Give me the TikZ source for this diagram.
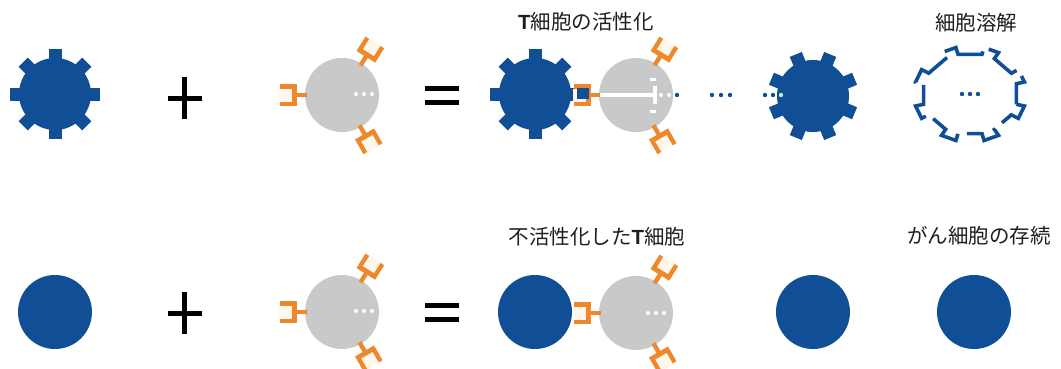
\documentclass[tikz,border=0pt]{standalone}
\usepackage{fontspec}
\newfontfamily\jpfont{Noto Sans CJK JP}
\newfontfamily\latfont{Liberation Sans}
\definecolor{cblue}{RGB}{16,78,150}
\definecolor{tgray}{RGB}{201,201,201}
\definecolor{rorange}{RGB}{238,136,44}
\definecolor{cupin}{RGB}{255,246,236}
\definecolor{txt}{RGB}{30,30,30}
\definecolor{lightdot}{RGB}{190,232,245}
\tikzset{
  x=1pt, y=-1pt,
  cancer/.style={circle, fill=cblue, minimum size=74pt, inner sep=0pt},
  tcell/.style={circle, fill=tgray, minimum size=74pt, inner sep=0pt},
  caption/.style={text=txt, font=\jpfont\fontsize{20.5}{22}\selectfont, inner sep=0pt},
  sign/.style={line width=5pt, black},
  gear/.pic={
    \fill[cblue] (0,0) circle (36);
    \foreach \a in {0,45,...,315}
      \fill[cblue, rotate=\a] (28,-6.5) rectangle (45,6.5);
  },
  receptor/.pic={
    \fill[rorange] (35,-2.2) rectangle (46,2.2);
    \fill[rorange] (45,-11) rectangle (62,11);
    \fill[cupin] (50,-6.5) rectangle (63,6.5);
  },
  wdot/.style={circle, fill=white, minimum size=4pt, inner sep=0pt},
  bdot/.style={circle, fill=cblue, minimum size=4.4pt, inner sep=0pt},
}
\newcommand{\plussign}[2]{%
  \draw[sign] (#1-17,#2) -- (#1+17,#2);
  \draw[sign] (#1,#2-21) -- (#1,#2+21);}
\newcommand{\equalsign}[2]{%
  \draw[sign] (#1-17,#2-7) -- (#1+17,#2-7);
  \draw[sign] (#1-17,#2+7) -- (#1+17,#2+7);}
\begin{document}
\begin{tikzpicture}
\useasboundingbox (0,0) rectangle (1061,368);

% ---------- top row: cancer cell with antigen ----------
\pic at (55,94) {gear};
\plussign{184.5}{98}

% resting T cell
\node[tcell] (t1) at (342,95) {};
\pic[rotate=180] at (t1.center) {receptor};
\pic[rotate=58] at (t1.center) {receptor};
\pic[rotate=-60] at (t1.center) {receptor};
\foreach \dx in {356,364,372} \node[wdot] at (\dx,94) {};

\equalsign{442}{95}

% T cell binding to the cancer cell
\node[caption] (lab1) at (586,22) {{\latfont\bfseries T}細胞の活性化};
\pic at (535,94) {gear};
\node[tcell] (t2) at (636,95) {};
\pic[rotate=180] at (t2.center) {receptor};
\pic[rotate=58] at (t2.center) {receptor};
\pic[rotate=-60] at (t2.center) {receptor};
\fill[cblue] (577,88) rectangle (589,99);
% signal through the T cell
\fill[white] (600,93) rectangle (655,97);
\fill[white] (653,86) rectangle (657,104);
\fill[white] (650,77.5) rectangle (656,80.5);
\fill[white] (650,109.5) rectangle (656,112.5);
\node[wdot] at (661,95) {};
\node[wdot] at (669,95) {};
\node[bdot] at (677,95) {};
\foreach \dx in {712,721,730} \node[bdot] at (\dx,95) {};
\node[bdot] at (765,95) {};
\node[bdot] at (773,95) {};

% attacked cancer cell
\pic[rotate=22.5] at (813,96) {gear};
\node[circle, fill=lightdot, minimum size=4.4pt, inner sep=0pt] at (781,95) {};

% lysed cell: broken outline
\node[caption] (lab2) at (976,23) {細胞溶解};
\begin{scope}[shift={(970,94)}, xscale=1.17]
  \draw[cblue, line width=3.6pt, dash pattern=on 46pt off 9pt, dash phase=4pt]
    (14.5:41) \foreach \a in {22.5,67.5,...,337.5} {
      -- (\a-8:41) -- (\a-8:48) -- (\a+8:48) -- (\a+8:41) } -- cycle;
\end{scope}
\foreach \dx in {962,970,978} \node[bdot] at (\dx,94) {};

% ---------- bottom row: cancer cell without antigen ----------
\node[cancer] (c1) at (55,312) {};
\plussign{184.5}{313}

\node[tcell] (t3) at (342,312) {};
\pic[rotate=180] at (t3.center) {receptor};
\pic[rotate=58] at (t3.center) {receptor};
\pic[rotate=-60] at (t3.center) {receptor};
\foreach \dx in {356,364,372} \node[wdot] at (\dx,311) {};

\equalsign{442}{312}

\node[caption] (lab3) at (597,237) {不活性化した{\latfont\bfseries T}細胞};
\node[cancer] (c2) at (535,312) {};
\node[tcell] (t4) at (636,313) {};
\pic[rotate=180] at (t4.center) {receptor};
\pic[rotate=58] at (t4.center) {receptor};
\pic[rotate=-60] at (t4.center) {receptor};
\foreach \dx in {648,656,664} \node[wdot] at (\dx,313) {};

\node[cancer] (c3) at (813,312) {};
\node[caption] (lab4) at (979,236) {がん細胞の存続};
\node[cancer] (c4) at (974,312) {};
\end{tikzpicture}
\end{document}
